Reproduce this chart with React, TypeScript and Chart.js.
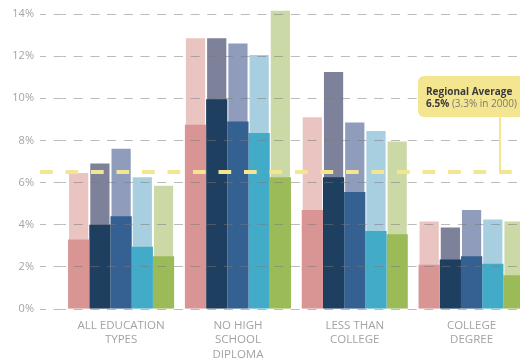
import React, { useEffect, useRef } from "react";
import { Chart, registerables } from "chart.js";

Chart.register(...registerables);

const categories: string[][] = [
  ["ALL EDUCATION", "TYPES"],
  ["NO HIGH", "SCHOOL", "DIPLOMA"],
  ["LESS THAN", "COLLEGE"],
  ["COLLEGE", "DEGREE"],
];

const seriesNames = ["Region", "Area B", "Area C", "Area D", "Area E"];

// latest values (lighter bars)
const regionNow = [6.5, 12.9, 9.15, 4.2];
const areaBNow = [6.95, 12.9, 11.3, 3.92];
const areaCNow = [7.65, 12.65, 8.9, 4.75];
const areaDNow = [6.3, 12.1, 8.5, 4.3];
const areaENow = [5.9, 14.2, 8.0, 4.2];

// 2000 values (darker bars)
const region2000 = [3.3, 8.75, 4.7, 2.1];
const areaB2000 = [4.0, 9.95, 6.25, 2.35];
const areaC2000 = [4.4, 8.9, 5.55, 2.5];
const areaD2000 = [2.95, 8.35, 3.7, 2.15];
const areaE2000 = [2.5, 6.25, 3.55, 1.6];

const lightColors = ["#e9c4c1", "#7d8199", "#8f9cbc", "#a8cfe0", "#cbd9a7"];
const darkColors = ["#d99494", "#1f3f61", "#346192", "#42abc8", "#9bbb58"];

const regionalAverage = 6.5;
const regionalAverage2000 = 3.3;

const yMin = 0;
const yMax = 14;
const yStep = 2;

const TICK_LEN = 22.7;
const YELLOW = "#f4e591";
const FONT = "'Open Sans', 'Noto Sans', sans-serif";

const avgPlugin = {
  id: "regionalAverage",
  afterDraw(chart: any) {
    const { ctx, chartArea } = chart;
    const y = chart.scales.y;
    const py = y.getPixelForValue(regionalAverage);
    const x0 = y.right - TICK_LEN;
    ctx.save();
    ctx.strokeStyle = YELLOW;
    ctx.lineWidth = 4;
    ctx.setLineDash([12.7, 12.8]);
    ctx.beginPath();
    ctx.moveTo(x0, py);
    ctx.lineTo(chart.width, py);
    ctx.stroke();

    const cx = chartArea.right - 30;
    ctx.setLineDash([]);
    ctx.lineWidth = 2;
    ctx.beginPath();
    ctx.moveTo(cx, py);
    ctx.lineTo(cx, py - 56);
    ctx.stroke();

    const bx = cx - 82;
    const by = py - 96;
    const bw = 125;
    const bh = 41;
    ctx.fillStyle = YELLOW;
    ctx.beginPath();
    (ctx as any).roundRect(bx, by, bw, bh, 6);
    ctx.fill();

    ctx.textBaseline = "alphabetic";
    ctx.textAlign = "left";
    ctx.fillStyle = "#3a3a3a";
    ctx.font = `bold 10px ${FONT}`;
    ctx.fillText("Regional Average", bx + 8, by + 18.5);
    const t1 = `${regionalAverage}%`;
    ctx.fillText(t1, bx + 8, by + 31);
    const w1 = ctx.measureText(t1).width;
    ctx.font = `10px ${FONT}`;
    ctx.fillStyle = "#7a7a70";
    ctx.fillText(` (${regionalAverage2000}% in 2000)`, bx + 8 + w1, by + 31);
    ctx.restore();
  },
};

export default function App() {
  const ref = useRef<HTMLCanvasElement | null>(null);

  useEffect(() => {
    if (!ref.current) return;
    const nowSeries = [regionNow, areaBNow, areaCNow, areaDNow, areaENow];
    const thenSeries = [region2000, areaB2000, areaC2000, areaD2000, areaE2000];
    const datasets: any[] = [];
    thenSeries.forEach((d, i) => {
      datasets.push({
        label: `${seriesNames[i]} 2000`,
        data: d,
        backgroundColor: darkColors[i],
        borderWidth: 0,
        stack: `s${i}`,
        order: 0,
        clip: false,
      });
    });
    nowSeries.forEach((d, i) => {
      datasets.push({
        label: `${seriesNames[i]}`,
        data: d,
        backgroundColor: lightColors[i],
        borderColor: "rgba(255,255,255,0.3)",
        borderWidth: 1,
        stack: `s${i}`,
        order: 1,
        clip: false,
      });
    });

    const chart = new Chart(ref.current, {
      type: "bar",
      data: { labels: categories as any, datasets },
      options: {
        animation: false,
        responsive: true,
        maintainAspectRatio: false,
        layout: { padding: { top: 14, left: 0, right: 0, bottom: 0 } },
        datasets: {
          bar: { barPercentage: 1, categoryPercentage: 0.908 },
        } as any,
        plugins: {
          legend: { display: false },
          tooltip: { enabled: false },
        },
        scales: {
          x: {
            grid: { display: false, drawTicks: false },
            border: { display: false },
            ticks: {
              color: "#a3a3a3",
              font: { family: FONT, size: 11.5, lineHeight: 1.27 } as any,
              padding: 9,
              maxRotation: 0,
              autoSkip: false,
            },
            afterFit: (s: any) => {
              s.height = 51;
            },
          },
          y: {
            stacked: false,
            min: yMin,
            max: yMax,
            ticks: {
              stepSize: yStep,
              color: "#a3a3a3",
              font: { family: FONT, size: 11 },
              padding: 6,
              callback: (v: any) => `${v}%`,
            },
            grid: {
              z: 1,
              color: "rgba(120,120,120,0.5)",
              lineWidth: 1,
              tickLength: TICK_LEN,
              tickColor: "rgba(120,120,120,0.5)",
              tickBorderDash: [9, 7.7],
              tickBorderDashOffset: 3,
            } as any,
            border: { display: false, dash: [9, 7.7], dashOffset: 6 } as any,
            afterFit: (s: any) => {
              s.width = 62.7;
            },
          },
        },
      },
      plugins: [avgPlugin],
    } as any);
    return () => chart.destroy();
  }, []);

  return (
    <div
      style={{
        position: "absolute",
        left: 0,
        top: 0,
        width: 520,
        height: 360,
        overflow: "hidden",
        background: "#fff",
      }}
    >
      <div style={{ width: 530, height: 360, position: "relative" }}>
        <canvas ref={ref} />
      </div>
    </div>
  );
}
